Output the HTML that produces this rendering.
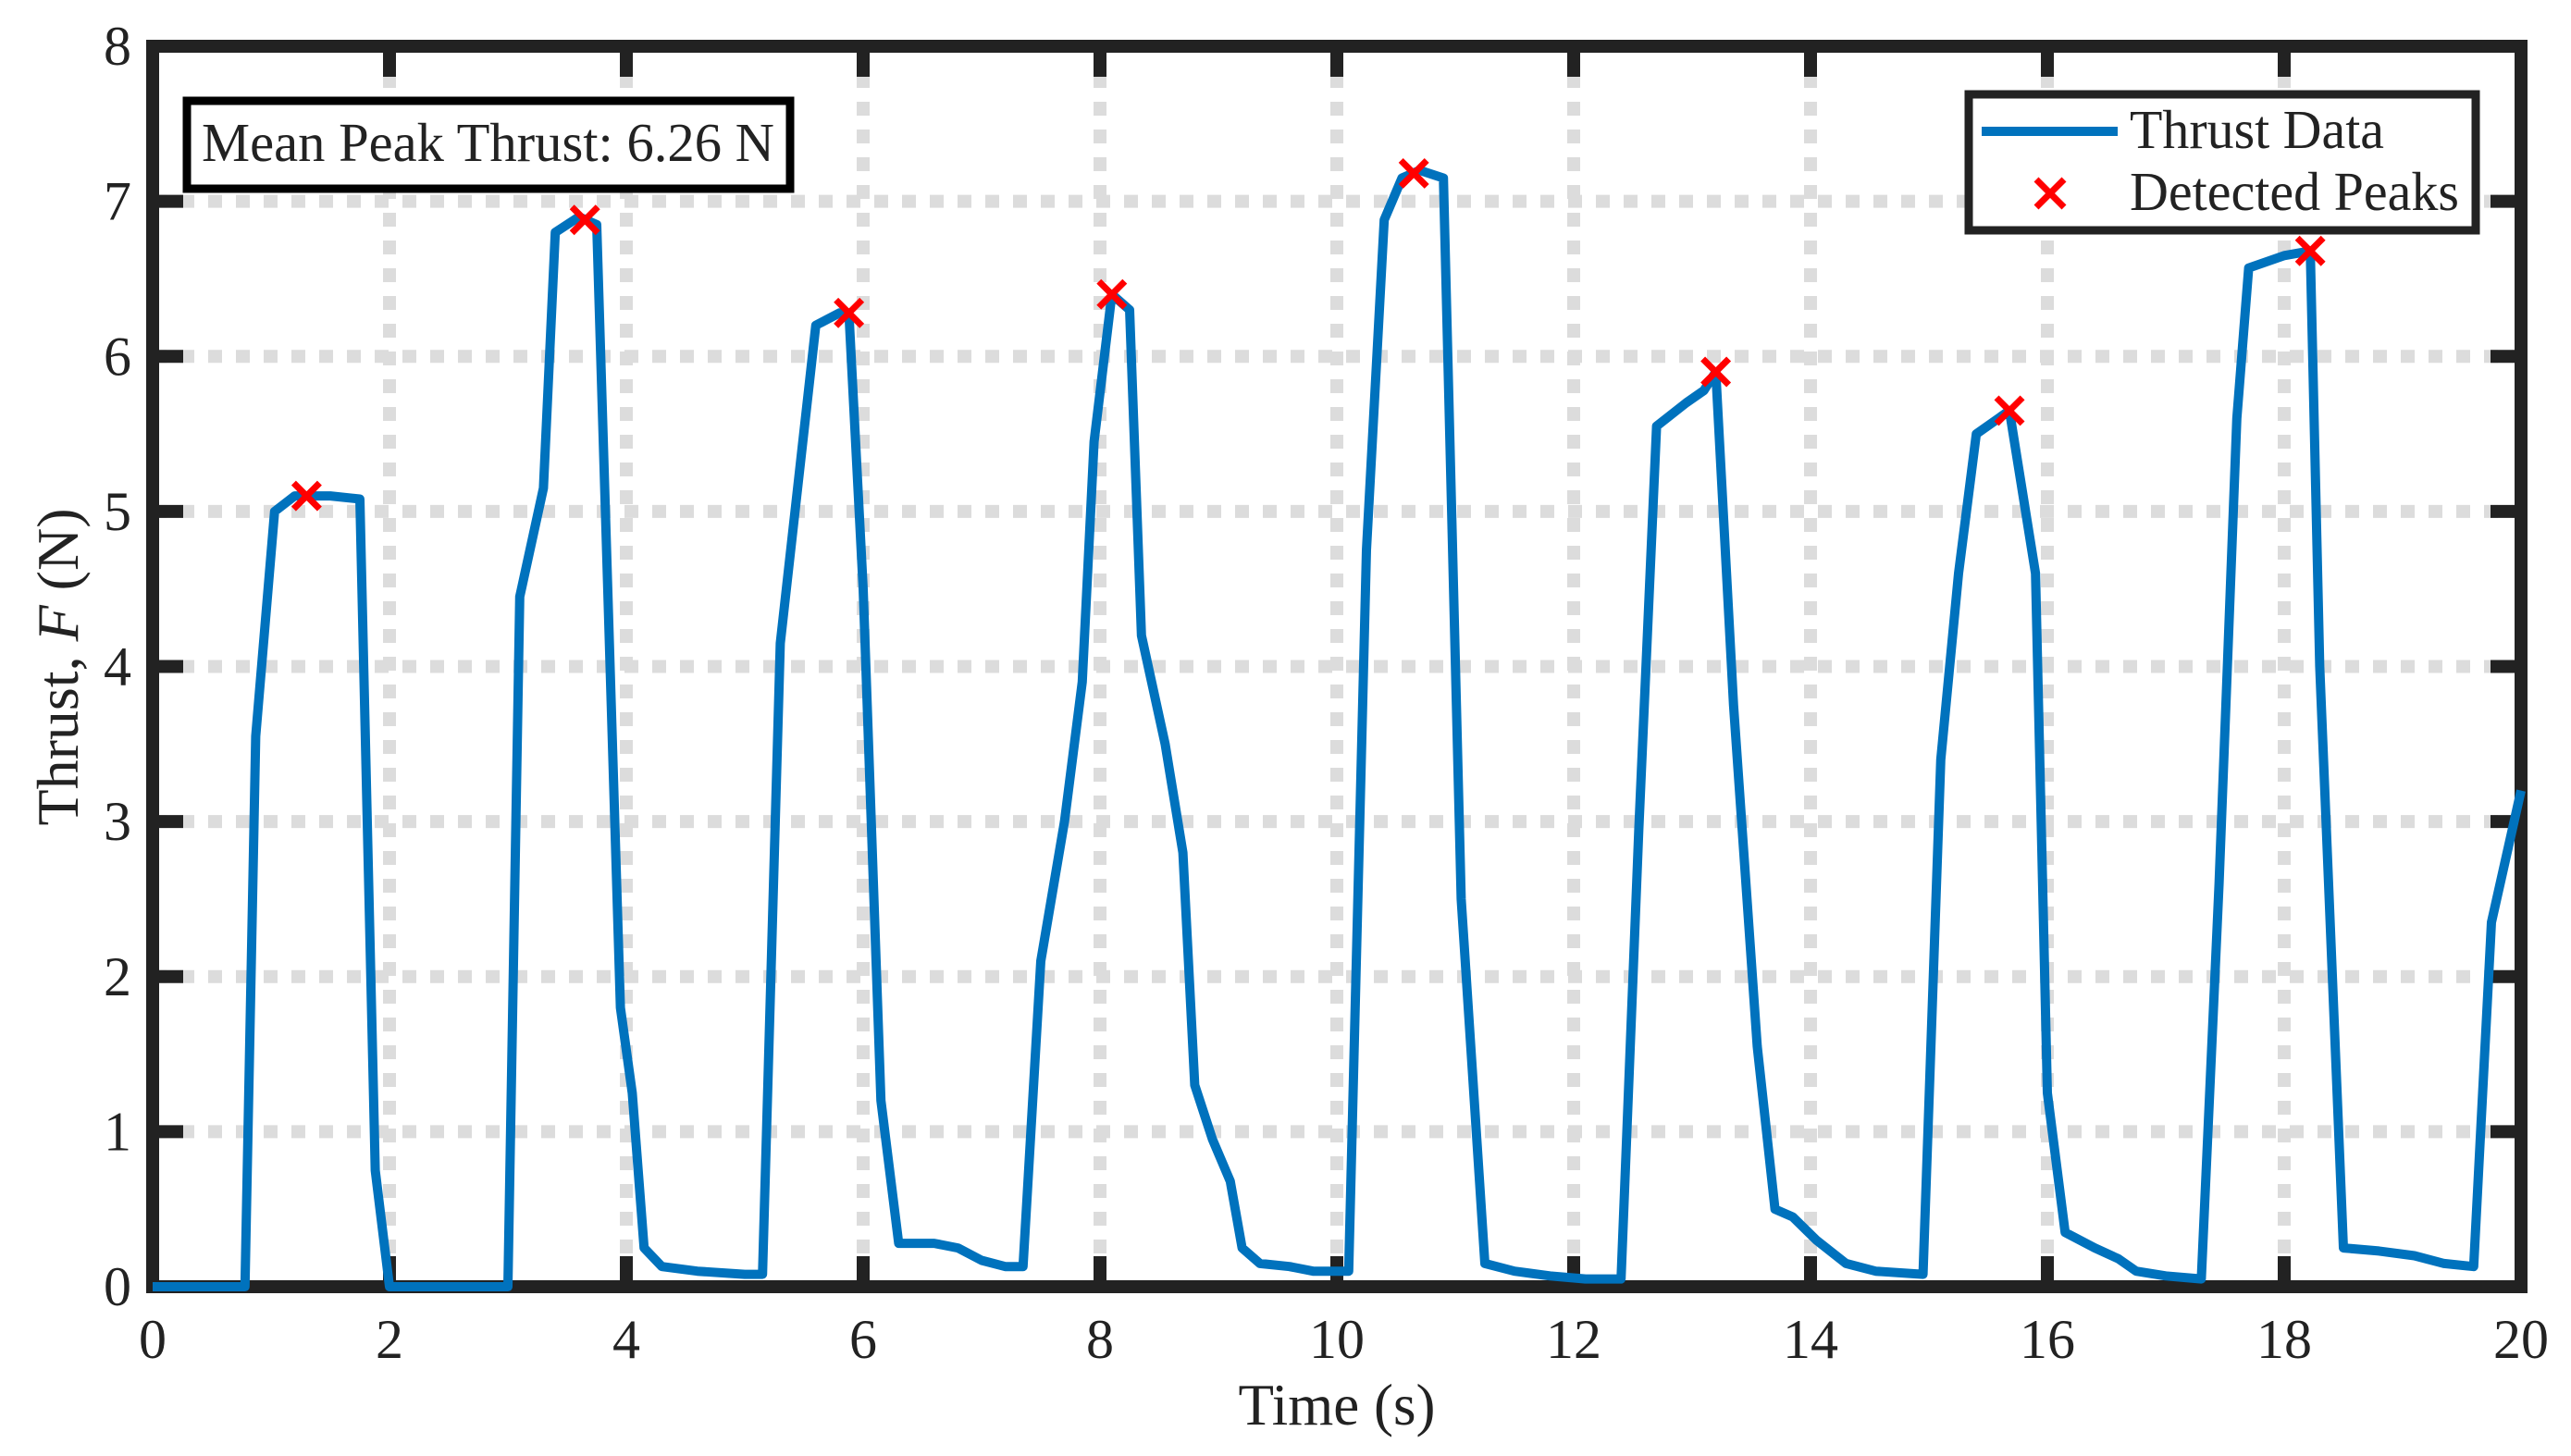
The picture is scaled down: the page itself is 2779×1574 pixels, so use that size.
<!DOCTYPE html>
<html><head><meta charset="utf-8">
<style>
html,body{margin:0;padding:0;background:#fff;}
svg{display:block;font-family:"Liberation Serif",serif;}
</style></head>
<body>
<svg id="chart" width="2779" height="1574" viewBox="0 0 2779 1574" xmlns="http://www.w3.org/2000/svg">
<defs><clipPath id="plotclip"><rect x="150" y="40" width="2590" height="1360"/></clipPath></defs>
<g id="grid"></g>
<g id="axes"></g>
<g id="series" clip-path="url(#plotclip)"></g>
<g id="ticklabels"></g>
<text x="1445" y="1540" font-size="63" text-anchor="middle" fill="#222">Time (s)</text>
<text x="0" y="0" font-size="64" text-anchor="middle" fill="#222" transform="translate(84,721) rotate(-90)">Thrust, <tspan font-style="italic">F</tspan> (N)</text>
<g>
<rect x="202" y="109" width="652" height="95" fill="#fff" stroke="#000" stroke-width="9"/>
<text x="218" y="174" font-size="59" textLength="619" lengthAdjust="spacingAndGlyphs" fill="#222">Mean Peak Thrust: 6.26 N</text>
</g>
<g>
<rect x="2128" y="102" width="548" height="147" fill="#fff" stroke="#222" stroke-width="9"/>
<line x1="2142" y1="142" x2="2289" y2="142" stroke="#0072BD" stroke-width="10"/>
<text x="2302" y="160" font-size="59" textLength="275" lengthAdjust="spacingAndGlyphs" fill="#222">Thrust Data</text>
<g stroke="#ff0000" stroke-width="7">
<line x1="2201" y1="194" x2="2231" y2="224"/><line x1="2201" y1="224" x2="2231" y2="194"/>
</g>
<text x="2302" y="227" font-size="59" textLength="356" lengthAdjust="spacingAndGlyphs" fill="#222">Detected Peaks</text>
</g>
</svg>
<script>
const timeVals = [0,0.78,0.87,1.03,1.2,1.5,1.75,1.88,2.0,3.0,3.1,3.3,3.4,3.6,3.75,3.95,4.05,4.15,4.3,4.6,5.0,5.15,5.3,5.6,5.8,5.88,6.0,6.15,6.3,6.6,6.8,7.0,7.2,7.35,7.5,7.7,7.85,7.95,8.1,8.25,8.35,8.55,8.7,8.8,8.95,9.1,9.2,9.35,9.6,9.8,10.0,10.1,10.25,10.4,10.55,10.7,10.9,11.05,11.25,11.5,11.8,12.1,12.4,12.55,12.7,12.95,13.1,13.2,13.35,13.55,13.7,13.85,14.05,14.3,14.55,14.95,15.1,15.25,15.4,15.68,15.9,16.0,16.15,16.4,16.6,16.75,17.0,17.3,17.45,17.6,17.7,18.0,18.22,18.3,18.5,18.8,19.1,19.35,19.6,19.75,20.0];
const thrustVals = [0,0,3.55,5.0,5.1,5.1,5.08,0.75,0,0,4.45,5.15,6.8,6.9,6.85,1.8,1.25,0.25,0.13,0.1,0.08,0.08,4.15,6.2,6.28,6.28,4.5,1.2,0.28,0.28,0.25,0.17,0.13,0.13,2.1,3.0,3.9,5.45,6.4,6.3,4.2,3.5,2.8,1.3,0.95,0.68,0.25,0.15,0.13,0.1,0.1,0.1,4.75,6.88,7.15,7.2,7.15,2.5,0.15,0.1,0.07,0.05,0.05,2.95,5.55,5.7,5.78,5.9,3.75,1.55,0.5,0.45,0.3,0.15,0.1,0.08,3.4,4.6,5.5,5.65,4.6,1.25,0.35,0.25,0.18,0.1,0.07,0.05,2.6,5.6,6.57,6.65,6.68,4.0,0.25,0.23,0.2,0.15,0.13,2.35,3.2];
const peakTimes = [1.3,3.65,5.88,8.1,10.65,13.2,15.68,18.22];
const peakVals = [5.1,6.88,6.28,6.4,7.18,5.9,5.65,6.68];
const xTicks = [0,2,4,6,8,10,12,14,16,18,20];
const yTicks = [0,1,2,3,4,5,6,7,8];

const NS = "http://www.w3.org/2000/svg";
const X0 = 165, X1 = 2725, Y0 = 1391, Y1 = 50;
const xScale = v => X0 + (v - 0) / 20 * (X1 - X0);
const yScale = v => Y0 - (v - 0) / 8 * (Y0 - Y1);
function mk(tag, attrs, parent){ const e = document.createElementNS(NS, tag); for (const k in attrs) e.setAttribute(k, attrs[k]); parent.appendChild(e); return e; }

const grid = document.getElementById('grid');
xTicks.forEach(t => {
  const l = mk('line', {x1:xScale(t), x2:xScale(t), y1:Y1, y2:Y0, stroke:'#dcdcdc', 'stroke-width':14, 'stroke-dasharray':'15 15'}, grid);
  
  
});
yTicks.forEach(t => {
  const l = mk('line', {x1:X0, x2:X1, y1:yScale(t), y2:yScale(t), stroke:'#dcdcdc', 'stroke-width':14, 'stroke-dasharray':'15 15'}, grid);
  
  
});

const axes = document.getElementById('axes');
const box = mk('rect', {x:X0, y:Y1, width:X1-X0, height:Y0-Y1, fill:'none', stroke:'#222', 'stroke-width':14}, axes);


const TL = 33;
xTicks.forEach(t => {
  const x = xScale(t);
  const a = mk('line', {x1:x, x2:x, y1:Y0, y2:Y0-TL, stroke:'#222', 'stroke-width':14}, axes);
  
  
  const b = mk('line', {x1:x, x2:x, y1:Y1, y2:Y1+TL, stroke:'#222', 'stroke-width':14}, axes);
  
  
});
yTicks.forEach(t => {
  const y = yScale(t);
  const a = mk('line', {x1:X0, x2:X0+TL, y1:y, y2:y, stroke:'#222', 'stroke-width':14}, axes);
  
  
  const b = mk('line', {x1:X1, x2:X1-TL, y1:y, y2:y, stroke:'#222', 'stroke-width':14}, axes);
  
  
});

const series = document.getElementById('series');
const pts = timeVals.map((t, i) => xScale(t).toFixed(1) + ',' + yScale(thrustVals[i]).toFixed(1)).join(' ');
const pl = mk('polyline', {points:pts, fill:'none', stroke:'#0072BD', 'stroke-width':10, 'stroke-linejoin':'round'}, series);


peakTimes.forEach((t, i) => {
  const cx = xScale(t), cy = yScale(peakVals[i]), r = 14;
  const g = mk('g', {stroke:'#ff0000', 'stroke-width':7}, series);
  
  
  mk('line', {x1:cx-r, y1:cy-r, x2:cx+r, y2:cy+r}, g);
  mk('line', {x1:cx-r, y1:cy+r, x2:cx+r, y2:cy-r}, g);
});

const tl = document.getElementById('ticklabels');
xTicks.forEach(t => {
  const e = mk('text', {x:xScale(t), y:1468, 'font-size':60, 'text-anchor':'middle', fill:'#222'}, tl);
  
  
  e.textContent = t;
});
yTicks.forEach(t => {
  const e = mk('text', {x:142, y:yScale(t)+20, 'font-size':60, 'text-anchor':'end', fill:'#222'}, tl);
  
  
  e.textContent = t;
});
</script>
</body></html>
